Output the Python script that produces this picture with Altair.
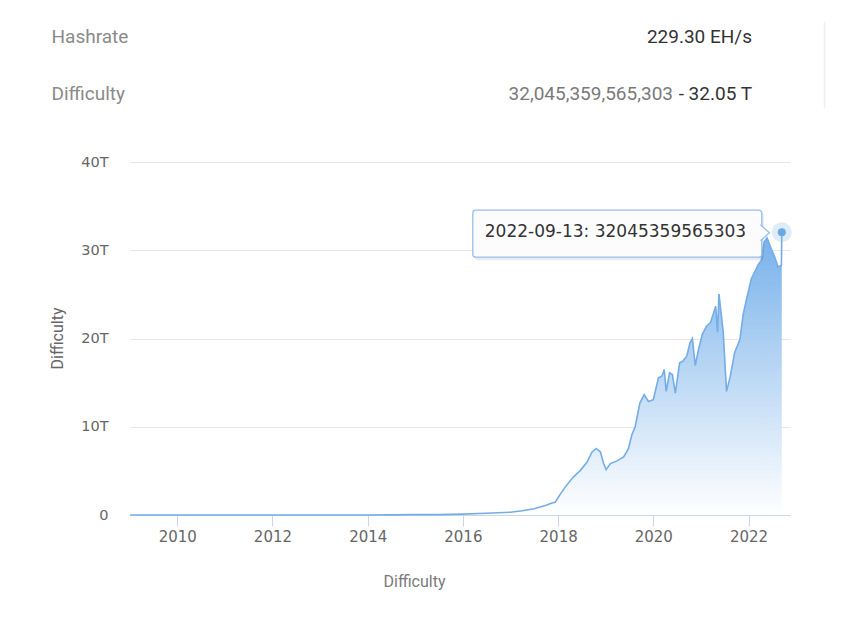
import altair as alt
import pandas as pd

# ---- data (difficulty in trillions, T) ----
dates = [
    "2009-01-03", "2010-07-01", "2011-06-30", "2012-06-30", "2013-06-30", "2013-12-31",
    "2014-06-30", "2014-12-31", "2015-06-30", "2015-12-31", "2016-06-30", "2016-12-31",
    "2017-03-31", "2017-06-30", "2017-09-30", "2017-11-15", "2017-12-09",
    "2018-01-19", "2018-02-24", "2018-04-27", "2018-06-21", "2018-08-11", "2018-09-16",
    "2018-10-19", "2018-11-21", "2018-12-16", "2019-01-04", "2019-02-06", "2019-03-29",
    "2019-05-19", "2019-06-25", "2019-07-20", "2019-08-15", "2019-09-20", "2019-10-23",
    "2019-11-25", "2020-01-01", "2020-02-10", "2020-03-07", "2020-03-25", "2020-04-09",
    "2020-05-05", "2020-05-27", "2020-06-18", "2020-07-21", "2020-08-15", "2020-09-14",
    "2020-10-09", "2020-10-27", "2020-11-18", "2020-12-13", "2021-01-11", "2021-02-13",
    "2021-03-15", "2021-04-09", "2021-04-24", "2021-05-08", "2021-05-19", "2021-06-21",
    "2021-07-16", "2021-08-14", "2021-09-16", "2021-10-27", "2021-11-21", "2021-12-17",
    "2022-01-22", "2022-02-17", "2022-03-14", "2022-04-09", "2022-05-01", "2022-05-23",
    "2022-06-18", "2022-07-20", "2022-08-15", "2022-09-10", "2022-09-13",
]
difficulty_t = [
    0.0, 0.0, 0.000001, 0.000002, 0.00002, 0.0011,
    0.0134, 0.040, 0.048, 0.10, 0.20, 0.31,
    0.48, 0.71, 1.10, 1.35, 1.44,
    2.40, 3.16, 4.30, 5.06, 6.00, 7.08,
    7.54, 7.16, 5.83, 5.14, 5.83, 6.13,
    6.58, 7.54, 9.06, 10.0, 12.68, 13.63,
    12.87, 13.06, 15.54, 15.73, 16.49, 14.01,
    16.11, 15.92, 13.82, 17.25, 17.44, 18.0,
    19.53, 19.99, 16.94, 18.77, 20.48, 21.43,
    21.81, 22.96, 23.65, 20.68, 25.05, 20.68,
    14.01, 15.73, 18.4, 19.9, 22.77, 24.49,
    26.77, 27.53, 28.3, 28.87, 30.96, 31.4,
    30.39, 29.25, 28.1, 28.3, 32.045359565303,
]
y_ticks = [0, 10, 20, 30, 40]
x_tick_years = [2010, 2012, 2014, 2016, 2018, 2020, 2022]
last_date = dates[-1]
last_difficulty = 32045359565303
header_labels = ["Hashrate", "Difficulty"]
hashrate_text = "229.30 EH/s"
difficulty_full = "32,045,359,565,303"
difficulty_short = "- 32.05 T"

df = pd.DataFrame({"date": dates, "value": difficulty_t})
last_df = pd.DataFrame({
    "date": [last_date],
    "value": [difficulty_t[-1]],
    "label": [f"{last_date}: {last_difficulty}"],
})

BLUE = "#7cb5ec"
W, H = 660, 353

x_enc = alt.X(
    "date:T",
    scale=alt.Scale(
        type="utc",
        domain=[alt.DateTime(year=2009, month=1, date=3, utc=True),
                alt.DateTime(year=2022, month=11, date=15, utc=True)],
    ),
    axis=alt.Axis(
        values=[alt.DateTime(year=yr, month=1, date=1, utc=True) for yr in x_tick_years],
        labelExpr="utcFormat(datum.value, '%Y')",
        grid=False, domainColor="#ccd6eb", tickColor="#ccd6eb", tickSize=11,
        labelFont="DejaVu Sans", labelFontSize=15, labelColor="#666666", labelPadding=3,
        title="Difficulty", titleFont="Roboto", titleFontSize=16, titleFontWeight="normal",
        titleColor="#7a7a7a", titleX=284, titleY=66, titleAnchor="start", titleAlign="center",
        titleBaseline="middle",
    ),
)
y_enc = alt.Y(
    "value:Q",
    scale=alt.Scale(domain=[0, 40], nice=False),
    axis=alt.Axis(
        values=y_ticks,
        labelExpr="datum.value == 0 ? '0' : datum.value + 'T'",
        grid=True, gridColor="#e6e6e6", domain=False, ticks=False,
        labelFont="DejaVu Sans", labelFontSize=14.5, labelColor="#666666", labelPadding=22,
        title="Difficulty", titleFont="Roboto", titleFontSize=16, titleFontWeight="normal",
        titleColor="#666666", titleX=-73, titleY=176, titleAngle=270, titleAlign="center",
        titleBaseline="middle",
    ),
)

base = alt.Chart(df)
area = base.mark_area(
    fill=alt.Gradient(
        gradient="linear",
        stops=[alt.GradientStop(color="#ffffff", offset=0),
               alt.GradientStop(color="#76b0ea", offset=1)],
        x1=1, x2=1, y1=1, y2=0,
    ),
    opacity=1,
).encode(x=x_enc, y=y_enc)
line = base.mark_line(color="#74ade7", strokeWidth=1.6).encode(x="date:T", y="value:Q")

tip = alt.Chart(last_df)
shadow = tip.mark_rect(
    fill="#000000", opacity=0.08, cornerRadius=3,
    xOffset=-307, x2Offset=-18, yOffset=-20, y2Offset=28,
).encode(x="date:T", x2="date:T", y="value:Q", y2="value:Q")
box = tip.mark_rect(
    fill="#fcfcfc", stroke="#94c0ec", strokeWidth=1.3, cornerRadius=3,
    xOffset=-309, x2Offset=-20, yOffset=-22, y2Offset=25,
).encode(x="date:T", x2="date:T", y="value:Q", y2="value:Q")
arrow = tip.mark_point(
    shape="M -0.62 -1 L 0.5 0 L -0.62 1", size=256, filled=True,
    fill="#fcfcfc", stroke="#94c0ec", strokeWidth=1.3, opacity=1,
    xOffset=-16.4, yOffset=0.5,
).encode(x="date:T", y="value:Q")
tip_text = tip.mark_text(
    align="left", baseline="middle", font="DejaVu Sans", fontSize=17, color="#333333",
    dx=-297, dy=0,
).encode(x="date:T", y="value:Q", text="label:N")
halo = tip.mark_point(
    shape="circle", size=400, filled=True, color=BLUE, opacity=0.25,
).encode(x="date:T", y="value:Q")
dot = tip.mark_point(
    shape="circle", size=64, filled=True, color="#6aa7e3", opacity=1,
).encode(x="date:T", y="value:Q")

hdr_labels = alt.Chart(pd.DataFrame({"t": header_labels, "y": [-118.7, -62]})).mark_text(
    align="left", baseline="alphabetic", font="Roboto", fontSize=19, color="#8a8a8a",
).encode(x=alt.value(-78.5), y=alt.Y("y:Q", scale=None), text="t:N")
hdr_hash = alt.Chart(pd.DataFrame({"t": [hashrate_text]})).mark_text(
    align="right", baseline="alphabetic", font="Roboto", fontSize=19, color="#333333",
).encode(x=alt.value(622), y=alt.value(-118.7), text="t:N")
hdr_full = alt.Chart(pd.DataFrame({"t": [difficulty_full]})).mark_text(
    align="right", baseline="alphabetic", font="Roboto", fontSize=19, color="#7a7a7a",
).encode(x=alt.value(543), y=alt.value(-62), text="t:N")
hdr_short = alt.Chart(pd.DataFrame({"t": [difficulty_short]})).mark_text(
    align="right", baseline="alphabetic", font="Roboto", fontSize=19, color="#333333",
).encode(x=alt.value(622), y=alt.value(-62), text="t:N")
sep = alt.Chart(pd.DataFrame({"a": [0]})).mark_rule(color="#eeeeee", strokeWidth=1.5).encode(
    x=alt.value(694.5), y=alt.value(-140), y2=alt.value(-54)
)

chart = alt.layer(
    area, line, shadow, box, arrow, tip_text, halo, dot,
    hdr_labels, hdr_hash, hdr_full, hdr_short, sep,
).properties(
    width=W, height=H,
    autosize=alt.AutoSizeParams(type="none"),
    padding={"left": 122, "top": 154, "right": 60, "bottom": 90},
    background="#ffffff",
).configure_view(stroke=None)

chart.save("out.html", embed_options={"renderer": "svg", "actions": False})
